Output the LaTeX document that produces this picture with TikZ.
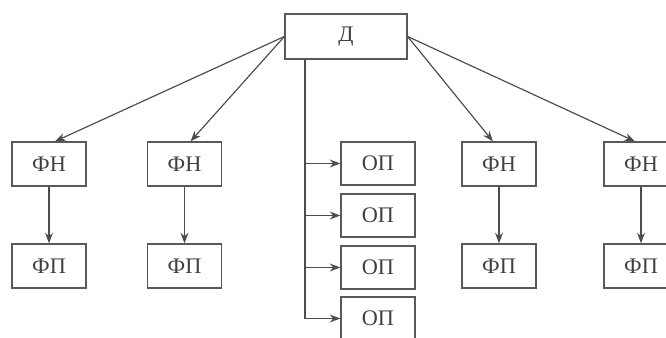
\documentclass[tikz,border=0pt]{standalone}
\usepackage{fontspec}
\setmainfont{Liberation Serif}
\usepackage{tikz}
\usetikzlibrary{arrows.meta, calc}

\tikzset{
  unitbox/.style={draw=black!65, line width=1.1pt, fill=white, minimum width=2.22cm,
    minimum height=1.32cm, inner sep=0pt, font=\fontsize{19}{22}\selectfont, text=black!75},
  link/.style={-{Stealth[scale=1.2]}, draw=black!70, line width=1pt}
}

\begin{document}
\begin{tikzpicture}[x=0.03cm, y=-0.03cm]
		\useasboundingbox (0,0) rectangle (666,338);
		\coordinate (pd) at (346,36.5);
		\coordinate (bus) at (305,59);
		\node[unitbox, minimum width=3.66cm, minimum height=1.35cm] (d) at (pd) {Д};
		\node[unitbox] (fn1) at (49,164) {ФН};
		\node[unitbox] (fp1) at (49,266) {ФП};
		\node[unitbox] (fn2) at (184.5,164) {ФН};
		\node[unitbox] (fp2) at (184.5,266) {ФП};
		\node[unitbox] (fn3) at (499,164) {ФН};
		\node[unitbox] (fp3) at (499,266) {ФП};
		\node[unitbox] (fn4) at (641,164) {ФН};
		\node[unitbox] (fp4) at (641,266) {ФП};
		\node[unitbox, minimum height=1.29cm] (op1) at (378,163.5) {ОП};
		\node[unitbox, minimum height=1.29cm] (op2) at (378,215.5) {ОП};
		\node[unitbox, minimum height=1.29cm] (op3) at (378,267.5) {ОП};
		\node[unitbox, minimum height=1.29cm] (op4) at (378,318.5) {ОП};
		\draw [link] (d.west) -- (fn1.75);
		\draw [link] (d.west) -- (fn2.75);
		\draw [link] (d.east) -- (fn3.105);
		\draw [link] (d.east) -- (fn4.105);
		\foreach \i in {1,...,4}
			\draw [link] (fn\i) -- (fp\i);
		\draw [link] (bus) |- (op4.west);
		\foreach \i in {1,2,3}
			\draw [link] (bus |- op\i.west) -- (op\i.west);
	\end{tikzpicture}
\end{document}
